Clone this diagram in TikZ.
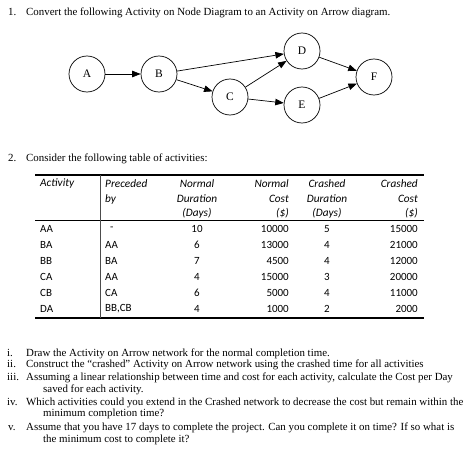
\documentclass[tikz,border=0pt]{standalone}
\usepackage{fontspec}
\usepackage{tikz}
\usetikzlibrary{arrows.meta}
\setmainfont{Liberation Serif}
\newfontfamily\tabfont{Carlito}

\tikzset{
  act/.style={draw, circle, minimum size=36pt, inner sep=0pt, line width=0.7pt, font=\fontsize{11.5}{13}\selectfont},
  arr/.style={-{Triangle[length=8.5pt,width=6.5pt]}, line width=0.7pt},
  txt/.style={anchor=base west, inner sep=0pt, font=\fontsize{10.9}{12}\selectfont},
  hd/.style={inner sep=0pt, font=\tabfont\itshape\fontsize{11.3}{13}\selectfont},
  cell/.style={inner sep=0pt, font=\tabfont\fontsize{11}{13}\selectfont}
}

\begin{document}
\begin{tikzpicture}[x=1pt, y=-1pt]
            \useasboundingbox (0, 0) rectangle (474, 452);

            % question 1
            \node[txt] (q1n) at (8, 16) {1.};
            \node[txt] (q1) at (26, 16) {Convert the following Activity on Node Diagram to an Activity on Arrow diagram.};

            \node[act] (A) at (87, 74) {A};
            \node[act] (B) at (159, 74) {B};
            \node[act] (C) at (230, 97) {C};
            \node[act] (D) at (302, 51) {D};
            \node[act] (E) at (302, 105) {E};
            \node[act] (F) at (374, 77) {F};

            \draw[arr] (A) -- (B); % A-B
            \draw[arr] (B) -- (D); % B-D
            \draw[arr] (B) -- (C); % B-C
            \draw[arr] (C) -- (D); % C-D
            \draw[arr] (C) -- (E); % C-E
            \draw[arr] (D) -- (F); % D-F
            \draw[arr] (E) -- (F); % E-F

            % question 2
            \node[txt] (q2n) at (8, 161) {2.};
            \node[txt] (q2) at (26, 161) {Consider the following table of activities:};

            \draw[line width=1.4pt] (35, 175) -- (424, 175); % top rule
            \draw[line width=0.8pt] (35, 220.5) -- (424, 220.5); % header rule
            \draw[line width=1.4pt] (35, 318) -- (424, 318); % bottom rule
            \draw[line width=0.7pt, black!70] (100, 175) -- (100, 318); % column rule

            % header
            \node[hd, anchor=west] (h1) at (40, 184) {Activity};
            \node[hd, anchor=west] (h2a) at (105, 184) {Preceded};
            \node[hd, anchor=west] (h2b) at (105, 199) {by};
            \node[hd] (h3a) at (197, 184) {Normal};
            \node[hd] (h3b) at (197, 199) {Duration};
            \node[hd] (h3c) at (197, 213) {(Days)};
            \node[hd, anchor=east] (h4a) at (289, 184) {Normal};
            \node[hd, anchor=east] (h4b) at (289, 199) {Cost};
            \node[hd, anchor=east] (h4c) at (289, 213) {(\$)};
            \node[hd] (h5a) at (327, 184) {Crashed};
            \node[hd] (h5b) at (327, 199) {Duration};
            \node[hd] (h5c) at (327, 213) {(Days)};
            \node[hd, anchor=east] (h6a) at (418, 184) {Crashed};
            \node[hd, anchor=east] (h6b) at (418, 199) {Cost};
            \node[hd, anchor=east] (h6c) at (418, 213) {(\$)};

            % rows
            \node[cell, anchor=west] (aa1) at (40, 229) {AA};
            \node[cell, anchor=west] (aa2) at (110, 229) {-};
            \node[cell] (aa3) at (197, 229) {10};
            \node[cell, anchor=east] (aa4) at (289, 229) {10000};
            \node[cell] (aa5) at (327, 229) {5};
            \node[cell, anchor=east] (aa6) at (418, 229) {15000};

            \node[cell, anchor=west] (ba1) at (40, 245) {BA};
            \node[cell, anchor=west] (ba2) at (105, 245) {AA};
            \node[cell] (ba3) at (197, 245) {6};
            \node[cell, anchor=east] (ba4) at (289, 245) {13000};
            \node[cell] (ba5) at (327, 245) {4};
            \node[cell, anchor=east] (ba6) at (418, 245) {21000};

            \node[cell, anchor=west] (bb1) at (40, 261) {BB};
            \node[cell, anchor=west] (bb2) at (105, 261) {BA};
            \node[cell] (bb3) at (197, 261) {7};
            \node[cell, anchor=east] (bb4) at (289, 261) {4500};
            \node[cell] (bb5) at (327, 261) {4};
            \node[cell, anchor=east] (bb6) at (418, 261) {12000};

            \node[cell, anchor=west] (ca1) at (40, 277) {CA};
            \node[cell, anchor=west] (ca2) at (105, 277) {AA};
            \node[cell] (ca3) at (197, 277) {4};
            \node[cell, anchor=east] (ca4) at (289, 277) {15000};
            \node[cell] (ca5) at (327, 277) {3};
            \node[cell, anchor=east] (ca6) at (418, 277) {20000};

            \node[cell, anchor=west] (cb1) at (40, 293) {CB};
            \node[cell, anchor=west] (cb2) at (105, 293) {CA};
            \node[cell] (cb3) at (197, 293) {6};
            \node[cell, anchor=east] (cb4) at (289, 293) {5000};
            \node[cell] (cb5) at (327, 293) {4};
            \node[cell, anchor=east] (cb6) at (418, 293) {11000};

            \node[cell, anchor=west] (da1) at (40, 309) {DA};
            \node[cell, anchor=west] (da2) at (105, 309) {BB,CB};
            \node[cell] (da3) at (197, 309) {4};
            \node[cell, anchor=east] (da4) at (289, 309) {1000};
            \node[cell] (da5) at (327, 309) {2};
            \node[cell, anchor=east] (da6) at (418, 309) {2000};

            % parts
            \node[txt] (p1n) at (7, 356) {i.};
            \node[txt] (p1) at (26, 356) {Draw the Activity on Arrow network for the normal completion time.};
            \node[txt] (p2n) at (7, 367.5) {ii.};
            \node[txt] (p2) at (26, 367.5) {Construct the ``crashed'' Activity on Arrow network using the crashed time for all activities};
            \node[txt] (p3n) at (7, 380) {iii.};
            \node[txt] (p3) at (26, 380) {Assuming a linear relationship between time and cost for each activity, calculate the Cost per Day};
            \node[txt] (p3b) at (43, 392.5) {saved for each activity.};
            \node[txt] (p4n) at (7, 405) {iv.};
            \node[txt] (p4) at (26, 405) {Which activities could you extend in the Crashed network to decrease the cost but remain within the};
            \node[txt] (p4b) at (43, 416.5) {minimum completion time?};
            \node[txt] (p5n) at (8, 430) {v.};
            \node[txt] (p5) at (26, 430) {Assume that you have 17 days to complete the project. Can you complete it on time? If so what is};
            \node[txt] (p5b) at (43, 442) {the minimum cost to complete it?};
        \end{tikzpicture}
\end{document}
